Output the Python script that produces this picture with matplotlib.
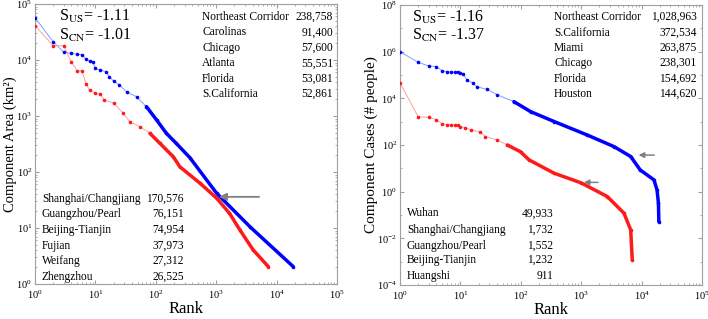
import matplotlib
matplotlib.use("Agg")
import math
import matplotlib.pyplot as plt
from matplotlib.ticker import LogLocator, NullFormatter, FixedLocator

plt.rcParams['font.family'] = ['Liberation Serif', 'DejaVu Serif']
plt.rcParams['mathtext.fontset'] = 'stix'

# ---------------- data ----------------
us_area_rank = [1, 2, 3, 4, 5, 6, 7, 8, 9, 10, 12, 15, 17, 20, 25, 33, 48, 70, 103, 150, 218, 367, 1020, 3630, 18900]
us_area = [56900, 21200, 13700, 13200, 12600, 12500, 10300, 9500, 9300, 7100, 6600, 6200, 5000, 4200, 3570, 2700, 2200,
           1470, 850, 490, 325, 180, 41.5, 10.5, 2.04]

cn_area_rank = [1, 2, 3, 4, 5, 6, 7, 8, 10, 12, 14, 20, 29, 37, 55, 80, 117, 195, 250, 540, 1020, 1660, 2470, 4100, 7300]
cn_area = [41000, 18000, 18000, 9100, 6400, 6400, 3730, 2900, 2540, 2450, 1930, 1690, 1120, 790, 645, 490, 325, 187,
           124, 63, 34, 18.3, 9.2, 4.05, 2.04]

us_case_rank = [1, 2, 3, 4, 5, 6, 7, 8, 9, 10, 11, 13, 16, 19, 28, 41, 77, 145, 360, 1250, 3500, 6600, 9500, 16000,
                18000, 19000, 19300]
us_case = [1.0e6, 350000, 243000, 230000, 150000, 140000, 135000, 130000, 128000, 125000, 110000, 60000, 45000, 31000,
           24000, 14000, 7200, 2700, 1000, 270, 85, 32, 8.5, 3.2, 1.2, 0.32, 0.052]

cn_case_rank = [1, 2, 3, 4, 5, 6, 7, 8, 9, 10, 12, 15, 21, 26, 41, 60, 99, 137, 355, 990, 2700, 5100, 6600, 7000]
cn_case = [46000, 1600, 1550, 1200, 800, 750, 730, 720, 700, 600, 560, 440, 370, 230, 163, 100, 51, 23, 6.2, 2.4,
           0.62, 0.12, 0.023, 0.0012]

area_us_names = ["Northeast Corridor", "Carolinas", "Chicago", "Atlanta", "Florida", "S.California"]
area_us_vals = ["238,758", "91,400", "57,600", "55,551", "53,081", "52,861"]
area_cn_names = ["Shanghai/Changjiang", "Guangzhou/Pearl", "Beijing-Tianjin", "Fujian", "Weifang", "Zhengzhou"]
area_cn_vals = ["170,576", "76,151", "74,954", "37,973", "27,312", "26,525"]

case_us_names = ["Northeast Corridor", "S.California", "Miami", "Chicago", "Florida", "Houston"]
case_us_vals = ["1,028,963", "372,534", "263,875", "238,301", "154,692", "144,620"]
case_cn_names = ["Wuhan", "Shanghai/Changjiang", "Guangzhou/Pearl", "Beijing-Tianjin", "Huangshi"]
case_cn_vals = ["49,933", "1,732", "1,552", "1,232", "911"]

slopes_area = ("-1.11", "-1.01")
slopes_case = ("-1.16", "-1.37")

# ---------------- figure ----------------
fig = plt.figure(figsize=(7.08, 3.19), dpi=100)
axL = fig.add_axes([35 / 708, 1 - 284 / 319, 302 / 708, 280 / 319])
axR = fig.add_axes([400 / 708, 1 - 285 / 319, 302 / 708, 280 / 319])

BLUE = '#0000ff'
RED = '#ff1a1a'
FRAME = '#a0a0a0'


def draw_series(ax, ranks, vals, color, lightcolor, dense_from):
    ax.plot(ranks, vals, '-', color=lightcolor, lw=0.7, zorder=2)
    idx = [i for i, r in enumerate(ranks) if r >= dense_from]
    ax.plot([ranks[i] for i in idx], [vals[i] for i in idx], '-', color=color, lw=2.5,
            solid_capstyle='round', solid_joinstyle='round', zorder=3)
    ax.plot(ranks, vals, 'o', color=color, ms=2.6, mew=0, zorder=4)


def style(ax, ymin, ymax, ystep):
    ax.set_xscale('log')
    ax.set_yscale('log')
    ax.set_xlim(1, 1e5)
    ax.set_ylim(ymin, ymax)
    ax.xaxis.set_major_locator(FixedLocator([10.0 ** k for k in range(0, 6)]))
    ax.xaxis.set_minor_locator(LogLocator(base=10, subs=range(2, 10), numticks=20))
    ax.xaxis.set_minor_formatter(NullFormatter())
    lo, hi = int(round(math.log10(ymin))), int(round(math.log10(ymax)))
    ax.yaxis.set_major_locator(FixedLocator([10.0 ** k for k in range(lo, hi + 1, ystep)]))
    if ystep == 1:
        ax.yaxis.set_minor_locator(LogLocator(base=10, subs=range(2, 10), numticks=20))
    else:
        ax.yaxis.set_minor_locator(FixedLocator([10.0 ** k for k in range(lo, hi + 1)]))
    ax.yaxis.set_minor_formatter(NullFormatter())
    ax.tick_params(which='both', direction='in', top=True, right=True, color=FRAME,
                   labelsize=7.5, pad=3)
    ax.tick_params(axis='y', which='both', pad=2)
    ax.tick_params(which='major', length=3)
    ax.tick_params(which='minor', length=1.5)
    for s in ax.spines.values():
        s.set_color(FRAME)
        s.set_linewidth(0.8)
    ax.set_xlabel('Rank', fontsize=12, labelpad=0)


# Left panel
draw_series(axL, us_area_rank, us_area, BLUE, '#7f9fff', 60)
draw_series(axL, cn_area_rank, cn_area, RED, '#ff9f9f', 60)
style(axL, 1, 1e5, 1)
axL.set_ylabel('Component Area (km²)', fontsize=10.5)
axL.yaxis.set_label_coords(-0.058, 0.5)

axL.text(0.079, 0.954, r'S$_{\mathrm{US}}$= ' + slopes_area[0], transform=axL.transAxes, fontsize=11.5, va='center')
axL.text(0.079, 0.889, r'S$_{\mathrm{CN}}$= ' + slopes_area[1], transform=axL.transAxes, fontsize=11.5, va='center')
ys = [0.955, 0.899, 0.844, 0.788, 0.732, 0.678]
for n, v, y in zip(area_us_names, area_us_vals, ys):
    axL.text(0.553, y, n, transform=axL.transAxes, fontsize=8.3, va='center', ha='left')
    axL.text(0.987, y, v, transform=axL.transAxes, fontsize=8.3, va='center', ha='right')
ys = [0.304, 0.250, 0.193, 0.137, 0.083, 0.026]
for n, v, y in zip(area_cn_names, area_cn_vals, ys):
    axL.text(0.023, y, n, transform=axL.transAxes, fontsize=8.3, va='center', ha='left')
    axL.text(0.493, y, v, transform=axL.transAxes, fontsize=8.3, va='center', ha='right')
axL.annotate('', xy=(1000, 36), xytext=(5700, 36),
             arrowprops=dict(arrowstyle='-|>', color='#808080', lw=1.3, mutation_scale=11), zorder=5)

# Right panel
draw_series(axR, us_case_rank, us_case, BLUE, '#7f9fff', 60)
draw_series(axR, cn_case_rank, cn_case, RED, '#ff9f9f', 60)
style(axR, 1e-4, 1e8, 2)
axR.set_ylabel('Component Cases (# people)', fontsize=11)
axR.yaxis.set_label_coords(-0.072, 0.5)

axR.text(0.04, 0.957, r'S$_{\mathrm{US}}$= ' + slopes_case[0], transform=axR.transAxes, fontsize=11.5, va='center')
axR.text(0.04, 0.893, r'S$_{\mathrm{CN}}$= ' + slopes_case[1], transform=axR.transAxes, fontsize=11.5, va='center')
ys = [0.957, 0.900, 0.846, 0.793, 0.736, 0.682]
for n, v, y in zip(case_us_names, case_us_vals, ys):
    axR.text(0.51, y, n, transform=axR.transAxes, fontsize=8.3, va='center', ha='left')
    axR.text(0.983, y, v, transform=axR.transAxes, fontsize=8.3, va='center', ha='right')
ys = [0.256, 0.196, 0.139, 0.089, 0.032]
for n, v, y in zip(case_cn_names, case_cn_vals, ys):
    axR.text(0.023, y, n, transform=axR.transAxes, fontsize=8.3, va='center', ha='left')
    axR.text(0.507, y, v, transform=axR.transAxes, fontsize=8.3, va='center', ha='right')
axR.annotate('', xy=(8000, 37), xytext=(18000, 37),
             arrowprops=dict(arrowstyle='-|>', color='#808080', lw=1.1, mutation_scale=8), zorder=5)
axR.annotate('', xy=(990, 2.5), xytext=(2100, 2.5),
             arrowprops=dict(arrowstyle='-|>', color='#808080', lw=1.1, mutation_scale=8), zorder=5)

fig.savefig('out.png', dpi=100)
